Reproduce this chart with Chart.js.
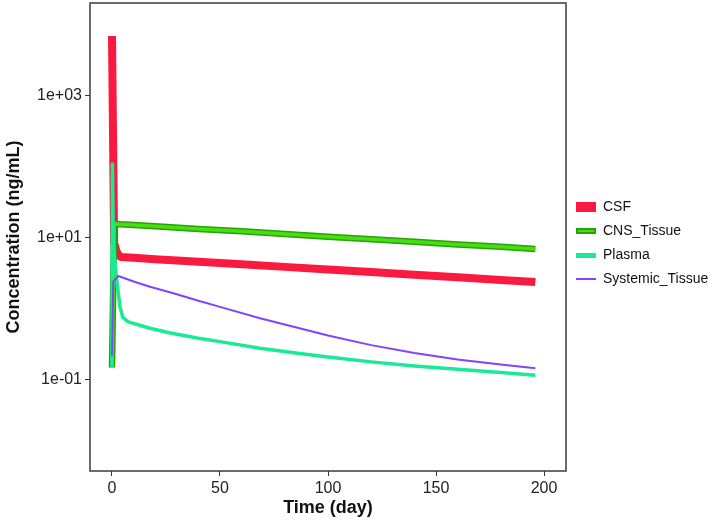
<!DOCTYPE html>
<html>
<head>
<meta charset="utf-8">
<title>Concentration vs time</title>
<script src="https://cdn.jsdelivr.net/npm/chart.js@4"></script>
<style>
  body { margin: 0; background: #fff; }
  canvas { display: block; }
</style>
</head>
<body>
<canvas id="myChart" width="708" height="522"></canvas>
<script>
'use strict';

// values (time in days, concentration in ng/mL)
let timeCSF = [0, 1, 2, 3, 4, 10, 20, 40, 60, 80, 100, 120, 140, 160, 180, 196];
let csf = [7000, 8.5, 6.6, 5.8, 5.4, 5.25, 5.03, 4.63, 4.26, 3.92, 3.6, 3.31, 3.04, 2.8, 2.57, 2.4];

let timeCNS = [0, 1, 2, 4, 10, 20, 40, 60, 80, 100, 120, 140, 160, 180, 196];
let cnsTissue = [0.15, 15.3, 15.8, 15.6, 15.2, 14.6, 13.4, 12.4, 11.4, 10.4, 9.6, 8.85, 8.1, 7.5, 7.0];

let timePlasma = [0, 0.2, 0.6, 1.2, 2.2, 3.7, 5, 7.5, 17.6, 27, 40, 50, 68.5, 85, 100, 120, 140, 160, 180, 196];
let plasma = [0.15, 110, 10.3, 5, 2.56, 1.07, 0.76, 0.66, 0.535, 0.46, 0.388, 0.347, 0.28, 0.24, 0.211, 0.18, 0.158, 0.142, 0.128, 0.117];

let timeSys = [0, 0.6, 2.9, 10, 17.6, 30, 40, 50, 68.5, 85, 100, 120, 140, 160, 180, 196];
let systemic = [0.22, 2.43, 2.92, 2.44, 2.06, 1.61, 1.31, 1.07, 0.74, 0.552, 0.424, 0.31, 0.24, 0.195, 0.165, 0.146];

let seriesNames = ['CSF', 'CNS_Tissue', 'Plasma', 'Systemic_Tissue'];

let xTicks = [0, 50, 100, 150, 200];
let yTicks = [0.1, 10, 1000];
let yTickLabels = ['1e-01', '1e+01', '1e+03'];

Chart.defaults.font.family = '"Liberation Sans", Arial, sans-serif';

function toPoints(times, values) {
  let pts = [];
  for (let i = 0; i < times.length; i++) {
    pts.push({x: times[i], y: values[i]});
  }
  return pts;
}

// small canvas used as the legend key
function legendKey(w, h, fill, edge) {
  let c = document.createElement('canvas');
  c.width = w;
  c.height = h;
  let g = c.getContext('2d');
  g.fillStyle = fill;
  g.fillRect(0, 0, w, h);
  if (edge) {
    g.strokeStyle = edge;
    g.lineWidth = 2;
    g.strokeRect(1, 1, w - 2, h - 2);
  }
  return c;
}

let keys = [
  legendKey(20, 10, '#FA1A40'),
  legendKey(20, 6, '#44E010', '#2E9E0A'),
  legendKey(20, 5, '#19EA94'),
  legendKey(20, 2, '#7F45FF')
];

let legendItems = [];
for (let i = 0; i < seriesNames.length; i++) {
  legendItems.push({
    text: seriesNames[i],
    pointStyle: keys[i],
    fillStyle: '#fff',
    strokeStyle: '#fff',
    lineWidth: 0,
    hidden: false,
    fontColor: '#111'
  });
}

const panelBorder = {
  id: 'panelBorder',
  afterDraw(chart) {
    let a = chart.chartArea;
    let ctx = chart.ctx;
    ctx.save();
    ctx.strokeStyle = '#3b3b3b';
    ctx.lineWidth = 1.5;
    ctx.strokeRect(a.left, a.top, a.right - a.left, a.bottom - a.top);
    ctx.restore();
  }
};

function line(label, data, color, width) {
  return {
    label: label,
    data: data,
    borderColor: color,
    backgroundColor: color,
    borderWidth: width,
    pointRadius: 0,
    tension: 0,
    borderCapStyle: 'butt',
    borderJoinStyle: 'round'
  };
}

// first dataset is drawn on top, so CSF goes last
let datasets = [
  line('Systemic_Tissue', toPoints(timeSys, systemic), '#7F45FF', 2),
  line('Plasma', toPoints(timePlasma, plasma), '#19EA94', 3.5),
  line('CNS_Tissue inner', toPoints(timeCNS, cnsTissue), '#44E010', 3.5),
  line('CNS_Tissue', toPoints(timeCNS, cnsTissue), '#2E9E0A', 6.5),
  line('CSF', toPoints(timeCSF, csf), '#FA1A40', 8)
];

let ctx = document.getElementById('myChart').getContext('2d');
let myChart = new Chart(ctx, {
  type: 'line',
  data: { datasets: datasets },
  options: {
    responsive: false,
    animation: false,
    events: [],
    layout: { padding: { top: 3, left: 0, right: 0, bottom: 0 } },
    plugins: {
      tooltip: { enabled: false },
      legend: {
        position: 'right',
        align: 'center',
        fullSize: false,
        maxWidth: 142,
        title: { display: true, text: ' ', font: { size: 10, lineHeight: 1 }, padding: { top: 1, bottom: 1 } },
        labels: {
          usePointStyle: true,
          pointStyleWidth: 20,
          boxHeight: 14,
          padding: 10,
          color: '#111',
          font: { size: 14 },
          generateLabels: () => legendItems
        }
      }
    },
    scales: {
      x: {
        type: 'linear',
        min: -10.185,
        max: 210.185,
        afterBuildTicks: s => { s.ticks = xTicks.map(v => ({value: v})); },
        ticks: { color: '#222', font: { size: 16 }, padding: 3, maxRotation: 0 },
        grid: { drawOnChartArea: false, drawTicks: true, tickLength: 5, color: '#333' },
        border: { display: false },
        title: { display: true, text: 'Time (day)', color: '#111', font: { size: 18, weight: 'bold' }, padding: { top: 0, bottom: 3 } },
        afterFit: s => { s.height = 51; }
      },
      y: {
        type: 'logarithmic',
        min: 0.005227,
        max: 20410,
        afterBuildTicks: s => { s.ticks = yTicks.map(v => ({value: v})); },
        ticks: { color: '#222', font: { size: 16 }, padding: 3, callback: (v, i) => yTickLabels[i] },
        grid: { drawOnChartArea: false, drawTicks: true, tickLength: 5, color: '#333' },
        border: { display: false },
        title: { display: true, text: 'Concentration (ng/mL)', color: '#111', font: { size: 18, weight: 'bold' }, padding: { top: 3, bottom: 0 } },
        afterFit: s => {
          s.width = 90;
          // tick labels sit well inside the panel, no extra room needed
          s.paddingTop = 0;
          s.paddingBottom = 0;
        }
      }
    }
  },
  plugins: [panelBorder]
});
</script>
</body>
</html>
